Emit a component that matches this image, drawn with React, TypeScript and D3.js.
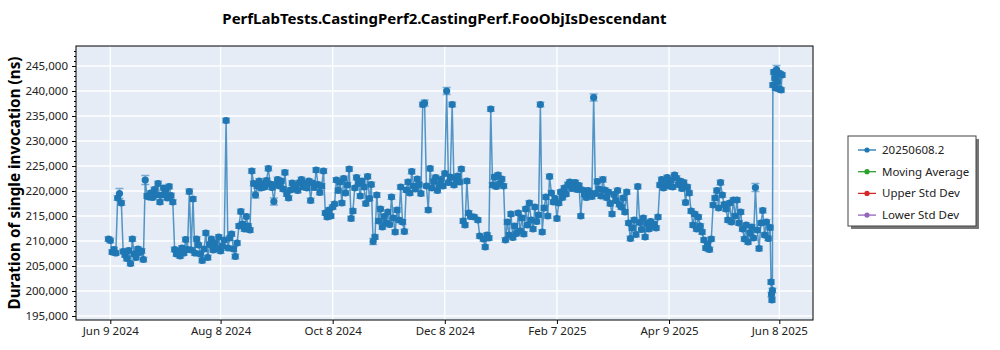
import { useEffect, useRef } from "react";
import * as d3 from "d3";

const chartTitle = "PerfLabTests.CastingPerf2.CastingPerf.FooObjIsDescendant";
const yLabel = "Duration of single invocation (ns)";

// run dates (one run per day, a few extra runs at the very end)
const runDates = [
  "2024-06-08","2024-06-09","2024-06-10","2024-06-11","2024-06-12","2024-06-13","2024-06-14","2024-06-15","2024-06-16","2024-06-17","2024-06-18","2024-06-19","2024-06-20","2024-06-21","2024-06-22","2024-06-23","2024-06-24","2024-06-25","2024-06-26","2024-06-27","2024-06-28","2024-06-29","2024-06-30",
  "2024-07-01","2024-07-02","2024-07-03","2024-07-04","2024-07-05","2024-07-06","2024-07-07","2024-07-08","2024-07-09","2024-07-10","2024-07-11","2024-07-12","2024-07-13","2024-07-14","2024-07-15","2024-07-16","2024-07-17","2024-07-18","2024-07-19","2024-07-20","2024-07-21","2024-07-22","2024-07-23","2024-07-24","2024-07-25","2024-07-26","2024-07-27","2024-07-28","2024-07-29","2024-07-30","2024-07-31",
  "2024-08-01","2024-08-02","2024-08-03","2024-08-04","2024-08-05","2024-08-06","2024-08-07","2024-08-08","2024-08-09","2024-08-10","2024-08-11","2024-08-12","2024-08-13","2024-08-14","2024-08-15","2024-08-16","2024-08-17","2024-08-18","2024-08-19","2024-08-20","2024-08-21","2024-08-22","2024-08-23","2024-08-24","2024-08-25","2024-08-26","2024-08-27","2024-08-28","2024-08-29","2024-08-30","2024-08-31",
  "2024-09-01","2024-09-02","2024-09-03","2024-09-04","2024-09-05","2024-09-06","2024-09-07","2024-09-08","2024-09-09","2024-09-10","2024-09-11","2024-09-12","2024-09-13","2024-09-14","2024-09-15","2024-09-16","2024-09-17","2024-09-18","2024-09-19","2024-09-20","2024-09-21","2024-09-22","2024-09-23","2024-09-24","2024-09-25","2024-09-26","2024-09-27","2024-09-28","2024-09-29","2024-09-30",
  "2024-10-01","2024-10-02","2024-10-03","2024-10-04","2024-10-05","2024-10-06","2024-10-07","2024-10-08","2024-10-09","2024-10-10","2024-10-11","2024-10-12","2024-10-13","2024-10-14","2024-10-15","2024-10-16","2024-10-17","2024-10-18","2024-10-19","2024-10-20","2024-10-21","2024-10-22","2024-10-23","2024-10-24","2024-10-25","2024-10-26","2024-10-27","2024-10-28","2024-10-29","2024-10-30","2024-10-31",
  "2024-11-01","2024-11-02","2024-11-03","2024-11-04","2024-11-05","2024-11-06","2024-11-07","2024-11-08","2024-11-09","2024-11-10","2024-11-11","2024-11-12","2024-11-13","2024-11-14","2024-11-15","2024-11-16","2024-11-17","2024-11-18","2024-11-19","2024-11-20","2024-11-21","2024-11-22","2024-11-23","2024-11-24","2024-11-25","2024-11-26","2024-11-27","2024-11-28","2024-11-29","2024-11-30",
  "2024-12-01","2024-12-02","2024-12-03","2024-12-04","2024-12-05","2024-12-06","2024-12-07","2024-12-08","2024-12-09","2024-12-10","2024-12-11","2024-12-12","2024-12-13","2024-12-14","2024-12-15","2024-12-16","2024-12-17","2024-12-18","2024-12-19","2024-12-20","2024-12-21","2024-12-22","2024-12-24","2024-12-26","2024-12-27","2024-12-29","2024-12-30","2024-12-31",
  "2025-01-01","2025-01-02","2025-01-03","2025-01-04","2025-01-05","2025-01-06","2025-01-07","2025-01-08","2025-01-09","2025-01-10","2025-01-11","2025-01-12","2025-01-13","2025-01-14","2025-01-15","2025-01-16","2025-01-17","2025-01-18","2025-01-19","2025-01-20","2025-01-21","2025-01-22","2025-01-23","2025-01-24","2025-01-25","2025-01-26","2025-01-27","2025-01-28","2025-01-29","2025-01-30","2025-01-31",
  "2025-02-01","2025-02-02","2025-02-03","2025-02-04","2025-02-05","2025-02-06","2025-02-07","2025-02-08","2025-02-09","2025-02-10","2025-02-11","2025-02-12","2025-02-13","2025-02-14","2025-02-15","2025-02-16","2025-02-17","2025-02-18","2025-02-19","2025-02-20","2025-02-21","2025-02-22","2025-02-23","2025-02-24","2025-02-25","2025-02-26","2025-02-27","2025-02-28",
  "2025-03-01","2025-03-02","2025-03-03","2025-03-04","2025-03-05","2025-03-06","2025-03-07","2025-03-08","2025-03-09","2025-03-10","2025-03-11","2025-03-12","2025-03-13","2025-03-14","2025-03-15","2025-03-16","2025-03-17","2025-03-18","2025-03-19","2025-03-20","2025-03-21","2025-03-22","2025-03-23","2025-03-24","2025-03-25","2025-03-26","2025-03-27","2025-03-28","2025-03-29","2025-03-30","2025-03-31",
  "2025-04-01","2025-04-02","2025-04-03","2025-04-04","2025-04-05","2025-04-06","2025-04-07","2025-04-08","2025-04-09","2025-04-10","2025-04-11","2025-04-12","2025-04-13","2025-04-14","2025-04-15","2025-04-16","2025-04-17","2025-04-18","2025-04-19","2025-04-20","2025-04-21","2025-04-22","2025-04-23","2025-04-24","2025-04-25","2025-04-26","2025-04-27","2025-04-28","2025-04-29","2025-04-30",
  "2025-05-01","2025-05-02","2025-05-03","2025-05-04","2025-05-05","2025-05-06","2025-05-07","2025-05-08","2025-05-09","2025-05-10","2025-05-11","2025-05-12","2025-05-13","2025-05-14","2025-05-15","2025-05-16","2025-05-17","2025-05-18","2025-05-19","2025-05-20","2025-05-21","2025-05-22","2025-05-23","2025-05-24","2025-05-25","2025-05-26","2025-05-27","2025-05-28","2025-05-29","2025-05-30","2025-05-31",
  "2025-06-01","2025-06-02","2025-06-03","2025-06-03 12","2025-06-03 18","2025-06-04","2025-06-04 06","2025-06-04 12","2025-06-05","2025-06-05 12","2025-06-06","2025-06-06 12","2025-06-07","2025-06-07 12","2025-06-08","2025-06-08 12","2025-06-09","2025-06-09 12",
];

// mean duration per run, ns
const durations = [
  210400,210100,207800,208300,207600,218600,219500,217600,207900,207200,206500,208100,205500,210400,207400,206700,208400,207700,208000,206300,222200,219000,218800,
  219600,218700,220300,219200,221500,217800,219200,220600,219800,218600,220900,219100,217800,208300,207400,208000,207000,208600,207600,210300,208300,219900,208200,218400,207600,210400,209200,207400,206100,208400,211600,
  206700,209300,210400,208200,209600,208500,210800,208000,209000,210200,234100,208600,210600,211400,208400,206900,209600,213000,215900,213400,212400,214900,213000,212200,224000,221500,219200,221000,222000,220600,221400,
  220800,222100,224500,221400,220700,217900,221300,222300,221000,222000,220400,223700,219400,218600,220200,221600,220500,221200,220100,221700,222300,220800,221500,220600,222000,218100,221600,220700,224200,221300,
  219700,221000,224000,215600,214800,216200,215000,216800,217400,222200,220100,221800,217600,222500,219600,221200,224400,214500,216000,220600,222700,221500,219000,222000,220800,217500,222900,218500,221300,209900,210800,
  219200,214000,216400,212800,214900,213600,215800,213300,218800,214600,211800,216200,214200,220800,213800,211900,220200,221800,219600,223900,221000,220400,222400,221300,219500,237300,237600,221000,216200,224500,
  220600,221900,222700,220100,221300,222300,221000,223500,240000,221700,222800,237300,221200,222500,223000,221800,224400,214000,213200,222000,215600,214900,214800,214200,211000,210400,208800,211200,
  210600,236400,221200,222800,220900,223200,221400,222400,221000,210200,213800,211200,215400,210700,213000,211500,215600,212000,214600,211400,216400,213200,217600,214200,212400,216800,213900,215200,237300,211800,216600,
  218800,215000,222900,219600,217800,218500,214500,217600,219800,218700,220600,219400,221300,221800,220500,221200,221700,220300,221100,215000,220200,219300,218700,220100,219600,218900,238700,219500,
  221900,220400,219000,222300,220200,218700,219800,217500,215400,219300,218100,220100,217300,216800,218600,215800,219800,213600,210500,212600,214200,211300,220900,213700,212300,214600,210800,213500,212400,213900,212900,
  213400,212600,214800,221200,222300,220600,221800,222700,221000,222200,220800,223200,222600,221300,222000,220500,221700,217700,220800,219600,216000,213200,215400,212400,214800,213000,211800,210200,208600,209400,
  208300,210400,217200,218600,220100,216600,221700,219200,217300,216400,214200,217600,213800,218200,215000,218200,213600,215800,212400,210400,213200,209800,211600,212800,210600,220700,212200,208500,213600,216100,211200,
  213800,210500,212700,201800,199300,198200,200100,241200,243800,242600,240600,244300,241900,243600,240400,243400,240200,243200,
];

// half-width of the error bar, ns; runs not listed use the usual spread
const wideErrors: Record<string, number> = {
  "2024-06-14": 1000, "2024-06-28": 900, "2024-07-22": 500, "2024-08-27": 600,
  "2024-09-06": 700, "2024-10-30": 600, "2024-11-27": 600, "2024-12-09": 700,
  "2025-02-27": 700, "2025-03-04": 500, "2025-05-26": 800, "2025-06-06 12": 800,
};
const usualError = 450;

const xTickDates = ["2024-06-09", "2024-08-08", "2024-10-08", "2024-12-08", "2025-02-07", "2025-04-09", "2025-06-08"];
const yTicks = [195000, 200000, 205000, 210000, 215000, 220000, 225000, 230000, 235000, 240000, 245000];

const legendLabels = ["20250608.2", "Moving Average", "Upper Std Dev", "Lower Std Dev"];
const legendColors = ["#1f77b4", "#2ca02c", "#d62728", "#9467bd"];

const FONT = "'Noto Sans', 'Open Sans', sans-serif";
const W = 1000;
const H = 350;
const plot = { left: 76, right: 813, top: 46, bottom: 320 };

const parseDay = d3.timeParse("%Y-%m-%d");
const parseHour = d3.timeParse("%Y-%m-%d %H");
const parse = (s: string) => (s.length > 10 ? parseHour(s) : parseDay(s));

const App = () => {
  const svgRef = useRef<SVGSVGElement>(null);

  useEffect(() => {
    const svg = d3.select(svgRef.current);
    svg.selectAll("*").remove();

    const points = runDates.map((d, i) => ({
      date: parse(d) as Date,
      value: durations[i],
      err: wideErrors[d] ?? usualError,
    }));

    const x = d3
      .scaleTime()
      .domain([new Date(2024, 4, 21, 8), new Date(2025, 5, 26, 8)])
      .range([plot.left, plot.right]);
    const y = d3.scaleLinear().domain([194200, 249000]).range([plot.bottom, plot.top]);

    // plot background
    svg
      .append("rect")
      .attr("x", plot.left)
      .attr("y", plot.top)
      .attr("width", plot.right - plot.left)
      .attr("height", plot.bottom - plot.top)
      .attr("fill", "#e5ecf6");

    // grid
    const grid = svg.append("g").attr("stroke", "white").attr("stroke-width", 1.3);
    grid
      .selectAll(".gy")
      .data(yTicks)
      .join("line")
      .attr("x1", plot.left)
      .attr("x2", plot.right)
      .attr("y1", (d) => y(d))
      .attr("y2", (d) => y(d));
    grid
      .selectAll(".gx")
      .data(xTickDates)
      .join("line")
      .attr("x1", (d) => x(parse(d) as Date))
      .attr("x2", (d) => x(parse(d) as Date))
      .attr("y1", plot.top)
      .attr("y2", plot.bottom);

    // axes
    const minorTicks = d3.range(195000, 249000, 1000).filter((v) => v % 5000 !== 0);
    svg
      .append("g")
      .attr("transform", `translate(${plot.left},0)`)
      .call(d3.axisLeft(y).tickValues(minorTicks).tickSize(2).tickSizeOuter(0).tickFormat(() => ""))
      .call((g) => g.select(".domain").remove());
    const yAxis = svg
      .append("g")
      .attr("transform", `translate(${plot.left},0)`)
      .call(d3.axisLeft(y).tickValues(yTicks).tickSize(4).tickPadding(4).tickSizeOuter(0).tickFormat(d3.format(",")));
    yAxis.select(".domain").remove();
    yAxis.selectAll("text").attr("font-family", FONT).attr("font-size", 11.5).attr("fill", "#222");

    const xAxis = svg
      .append("g")
      .attr("transform", `translate(0,${plot.bottom})`)
      .call(
        d3
          .axisBottom(x)
          .tickValues(xTickDates.map((d) => parse(d) as Date))
          .tickSize(4)
          .tickPadding(3)
          .tickSizeOuter(0)
          .tickFormat((d) => d3.timeFormat("%b %-d %Y")(d as Date))
      );
    xAxis.select(".domain").remove();
    xAxis.selectAll("text").attr("font-family", FONT).attr("font-size", 11.5).attr("fill", "#222");

    // series: line, error bars, markers
    const line = d3
      .line<{ date: Date; value: number }>()
      .x((d) => x(d.date))
      .y((d) => y(d.value));
    svg
      .append("path")
      .datum(points)
      .attr("d", line)
      .attr("fill", "none")
      .attr("stroke", "#1f77b4")
      .attr("stroke-opacity", 0.75)
      .attr("stroke-width", 1.5);

    svg
      .append("g")
      .selectAll("path")
      .data(points)
      .join("path")
      .attr("d", (d) => {
        const cx = x(d.date);
        const lo = y(d.value - d.err);
        const hi = y(d.value + d.err);
        return `M${cx},${lo}V${hi}M${cx - 4},${hi}h8M${cx - 4},${lo}h8`;
      })
      .attr("fill", "none")
      .attr("stroke", "#1f77b4")
      .attr("stroke-opacity", 0.55)
      .attr("stroke-width", 1.6);

    svg
      .append("g")
      .selectAll("circle")
      .data(points)
      .join("circle")
      .attr("cx", (d) => x(d.date))
      .attr("cy", (d) => y(d.value))
      .attr("r", 3.6)
      .attr("fill", "#1f77b4");

    // frame
    svg
      .append("rect")
      .attr("x", plot.left)
      .attr("y", plot.top)
      .attr("width", plot.right - plot.left)
      .attr("height", plot.bottom - plot.top)
      .attr("fill", "none")
      .attr("stroke", "black")
      .attr("stroke-width", 1);

    // titles
    svg
      .append("text")
      .attr("x", (plot.left + plot.right) / 2)
      .attr("y", 24)
      .attr("text-anchor", "middle")
      .attr("font-family", FONT)
      .attr("font-weight", "bold")
      .attr("font-size", 15)
      .text(chartTitle);

    svg
      .append("text")
      .attr("transform", `translate(20,${(plot.top + plot.bottom) / 2}) rotate(-90)`)
      .attr("text-anchor", "middle")
      .attr("font-family", FONT)
      .attr("font-weight", "bold")
      .attr("font-size", 15.3)
      .text(yLabel);

    // legend
    const lg = svg.append("g").attr("transform", "translate(848,136)");
    lg.append("rect").attr("x", 3).attr("y", 3).attr("width", 128).attr("height", 90).attr("fill", "#777");
    lg.append("rect")
      .attr("width", 128)
      .attr("height", 90)
      .attr("fill", "white")
      .attr("stroke", "#444")
      .attr("stroke-width", 1);
    const items = lg
      .selectAll(".item")
      .data(legendLabels)
      .join("g")
      .attr("transform", (_, i) => `translate(0,${14 + i * 21.7})`);
    items
      .append("line")
      .attr("x1", 10)
      .attr("x2", 28)
      .attr("stroke", (_, i) => legendColors[i])
      .attr("stroke-width", 1.3);
    items
      .append("circle")
      .attr("cx", 19)
      .attr("r", 2.6)
      .attr("fill", (_, i) => legendColors[i]);
    items
      .append("text")
      .attr("x", 34)
      .attr("dy", "0.35em")
      .attr("font-family", FONT)
      .attr("font-size", 11.5)
      .attr("fill", "#222")
      .text((d) => d);
  }, []);

  return <svg ref={svgRef} width={W} height={H} style={{ position: "absolute", left: 0, top: 0 }} />;
};

export default App;
